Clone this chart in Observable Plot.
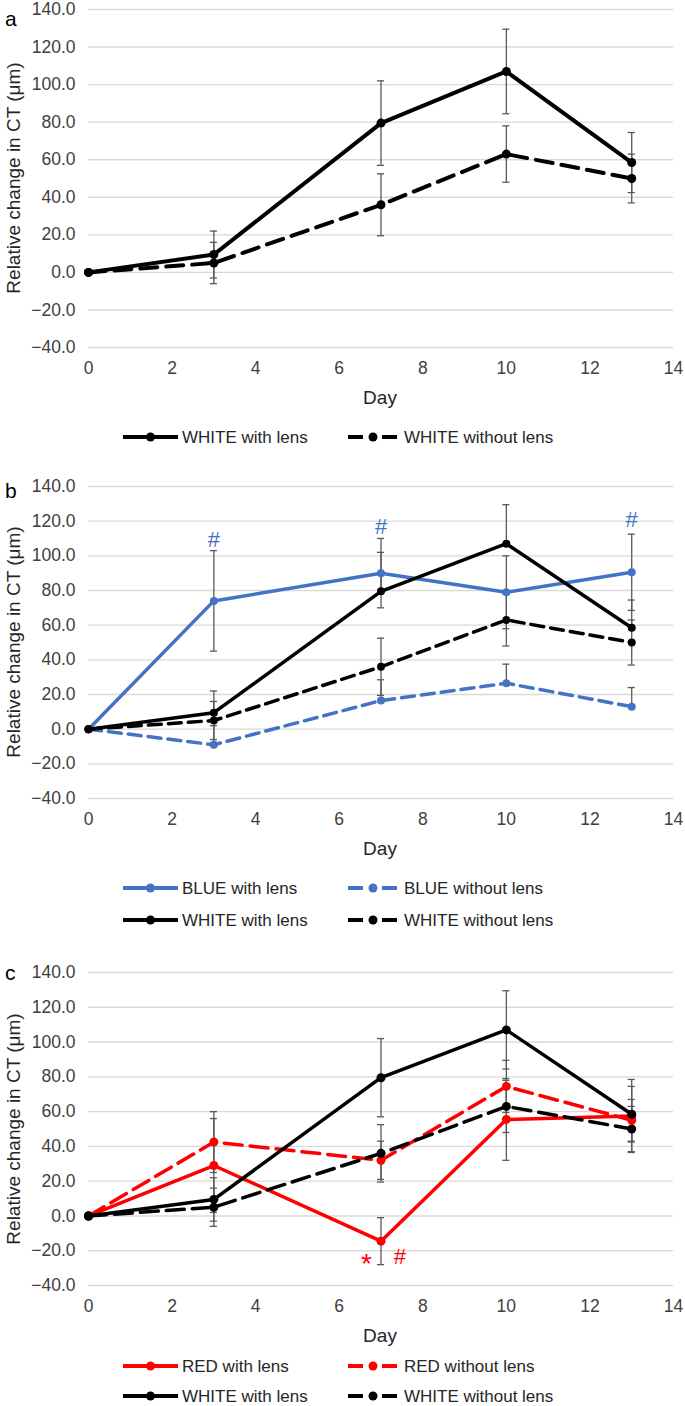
<!DOCTYPE html>
<html><head><meta charset="utf-8">
<script src="https://cdn.jsdelivr.net/npm/d3@7"></script>
<script src="https://cdn.jsdelivr.net/npm/@observablehq/plot@0.6"></script>
<style>
body{margin:0;background:#fff;}
#root{position:relative;width:685px;height:1406px;overflow:hidden;font-family:"Liberation Sans",Arial,sans-serif;color:#262626;background:#fff;}
.abs{position:absolute;white-space:nowrap;line-height:1;}
</style></head><body><div id="root"></div>
<script>
// ---- data ----
const days = [0, 3, 7, 10, 13];
const whiteWith = [0, 9.5, 79.5, 107, 58.5];
const whiteWithErr = [0, 12.5, 22.5, 22.5, 16];
const whiteWithout = [0, 5, 36, 63, 50];
const whiteWithoutErr = [0, 11, 16.5, 15, 13];
const blueWith = [0, 74, 90, 79, 90.5];
const blueWithErr = [0, 29, 20, 21, 22];
const blueWithout = [0, -9, 16.5, 26.5, 13];
const blueWithoutErr = [0, 11, 12, 11, 11];
const redWith = [0, 29, -14.5, 55.5, 57.5];
const redWithErr = [0, 27, 13.5, 23.5, 21];
const redWithout = [0, 42.5, 32, 74.5, 55];
const redWithoutErr = [0, 17.5, 11, 15, 12];

const yTicks = [-40, -20, 0, 20, 40, 60, 80, 100, 120, 140];
const xTicks = [0, 2, 4, 6, 8, 10, 12, 14];

const blueAnnoDays = [3, 7, 13];
const blueAnnoY = [109, 116.5, 120.5];
const blueAnnoText = ["#", "#", "#"];
const blueAnnoSize = [22, 22, 22];
const redAnnoDays = [6.65, 7.45];
const redAnnoY = [-27.5, -23.5];
const redAnnoText = ["*", "#"];
const redAnnoSize = [28, 22];

const BLACK = "#000000", BLUE = "#4472C4", RED = "#FF0000", ERR = "#595959";

const S = (name, v, e, color, dashed, lower) => ({name, v, e, color, dashed, lower});

const panels = [
  {letter: "a", top: 9, bottom: 347, dash: "17,9", sw: 4, r: 4.5,
   series: [S("WHITE with lens", whiteWith, whiteWithErr, BLACK, false, true),
            S("WHITE without lens", whiteWithout, whiteWithoutErr, BLACK, true, true)],
   legendRows: [[0, 1]], legendY: [437], dayY: 397, letterY: 18,
   anno: null},
  {letter: "b", top: 486, bottom: 798, dash: "13,7", sw: 3.5, r: 4,
   series: [S("BLUE with lens", blueWith, blueWithErr, BLUE, false, true),
            S("BLUE without lens", blueWithout, blueWithoutErr, BLUE, true, false),
            S("WHITE with lens", whiteWith, whiteWithErr, BLACK, false, false),
            S("WHITE without lens", whiteWithout, whiteWithoutErr, BLACK, true, true)],
   legendRows: [[0, 1], [2, 3]], legendY: [888, 920], dayY: 848, letterY: 490,
   anno: {days: blueAnnoDays, y: blueAnnoY, text: blueAnnoText, size: blueAnnoSize, color: BLUE}},
  {letter: "c", top: 972, bottom: 1285, dash: "18,8", sw: 3.5, r: 4.5,
   series: [S("RED with lens", redWith, redWithErr, RED, false, true),
            S("RED without lens", redWithout, redWithoutErr, RED, true, true),
            S("WHITE with lens", whiteWith, whiteWithErr, BLACK, false, true),
            S("WHITE without lens", whiteWithout, whiteWithoutErr, BLACK, true, true)],
   legendRows: [[0, 1], [2, 3]], legendY: [1366, 1396], dayY: 1335, letterY: 972,
   anno: {days: redAnnoDays, y: redAnnoY, text: redAnnoText, size: redAnnoSize, color: RED}}
];

const root = document.getElementById("root");
const FONT = "Liberation Sans, Arial, sans-serif";
const capW = 0.085;
const MT = 20, MB = 45;

function addText(txt, x, y, fs, opts = {}) {
  const d = document.createElement("div");
  d.className = "abs";
  d.textContent = txt;
  d.style.fontSize = fs + "px";
  d.style.left = x + "px";
  d.style.top = y + "px";
  d.style.color = opts.color || "#262626";
  if (opts.transform) d.style.transform = opts.transform;
  root.appendChild(d);
  return d;
}

function swatch(x, y, s, r) {
  const ns = "http://www.w3.org/2000/svg";
  const w = s.dashed ? 49 : 55;
  const svg = document.createElementNS(ns, "svg");
  svg.setAttribute("width", w); svg.setAttribute("height", 14);
  svg.style.position = "absolute"; svg.style.left = x + "px"; svg.style.top = (y - 7) + "px";
  const seg = (a, b) => {
    const l = document.createElementNS(ns, "line");
    l.setAttribute("x1", a); l.setAttribute("x2", b); l.setAttribute("y1", 7); l.setAttribute("y2", 7);
    l.setAttribute("stroke", s.color); l.setAttribute("stroke-width", 4);
    svg.appendChild(l);
  };
  if (s.dashed) { seg(0, 15); seg(34, 49); } else seg(0, 55);
  const c = document.createElementNS(ns, "circle");
  c.setAttribute("cx", s.dashed ? 25 : 27.5); c.setAttribute("cy", 7); c.setAttribute("r", r);
  c.setAttribute("fill", s.color);
  svg.appendChild(c);
  root.appendChild(svg);
}

for (const p of panels) {
  const marks = [Plot.gridY(yTicks, {stroke: "#d9d9d9", strokeOpacity: 1, strokeWidth: 1.4})];
  for (const s of p.series) {
    const rows = days.map((d, i) => ({day: d, v: s.v[i], e: s.e[i]})).filter(r => r.e > 0);
    const er = rows.map(r => ({day: r.day, hi: r.v + r.e, lo: s.lower ? r.v - r.e : r.v}));
    marks.push(Plot.ruleX(er, {x: "day", y1: "lo", y2: "hi", stroke: ERR, strokeWidth: 1.3}));
    marks.push(Plot.ruleY(er, {y: "hi", x1: d => d.day - capW, x2: d => d.day + capW, stroke: ERR, strokeWidth: 1.3}));
    if (s.lower) marks.push(Plot.ruleY(er, {y: "lo", x1: d => d.day - capW, x2: d => d.day + capW, stroke: ERR, strokeWidth: 1.3}));
  }
  for (const s of p.series) {
    const rows = days.map((d, i) => ({day: d, v: s.v[i]}));
    marks.push(Plot.line(rows, {x: "day", y: "v", stroke: s.color, strokeWidth: p.sw,
      strokeDasharray: s.dashed ? p.dash : null, strokeLinejoin: "round"}));
    marks.push(Plot.dot(rows, {x: "day", y: "v", r: p.r, fill: s.color, stroke: "none"}));
  }
  if (p.anno) {
    const a = p.anno.days.map((d, i) => ({day: d, y: p.anno.y[i], t: p.anno.text[i], fs: p.anno.size[i]}));
    for (const item of a) {
      marks.push(Plot.text([item], {x: "day", y: "y", text: "t", fill: p.anno.color, fontSize: item.fs, lineAnchor: "middle"}));
    }
  }
  const h = p.bottom - p.top + MT + MB;
  const chart = Plot.plot({
    width: 685, height: h,
    marginLeft: 88, marginRight: 12, marginTop: MT, marginBottom: MB,
    style: {fontFamily: FONT, fontSize: "17.5px", color: "#404040", background: "transparent", overflow: "visible"},
    x: {domain: [0, 14], ticks: xTicks, tickSize: 0, tickPadding: 14, label: null, tickFormat: d => String(d)},
    y: {domain: [-40, 140], ticks: yTicks, tickSize: 0, tickPadding: 13, label: null, tickFormat: d3.format(".1f")},
    marks
  });
  chart.style.position = "absolute";
  chart.style.left = "0px";
  chart.style.top = (p.top - MT) + "px";
  root.appendChild(chart);

  addText(p.letter, 5, p.letterY - 10, 21, {color: "#000"});
  addText("Relative change in CT (μm)", 13, (p.top + p.bottom) / 2, 19,
    {transform: "translate(-50%,-50%) rotate(-90deg)", color: "#262626"});
  addText("Day", 380, p.dayY, 19, {transform: "translate(-50%,-50%)"});
  p.legendRows.forEach((row, ri) => {
    const y = p.legendY[ri];
    row.forEach((si, ci) => {
      const s = p.series[si];
      const sx = ci === 0 ? 123 : 348;
      const tx = ci === 0 ? 182 : 404;
      swatch(sx, y, s, 4.5);
      addText(s.name, tx, y, 17, {transform: "translateY(-50%)"});
    });
  });
}
</script></body></html>
